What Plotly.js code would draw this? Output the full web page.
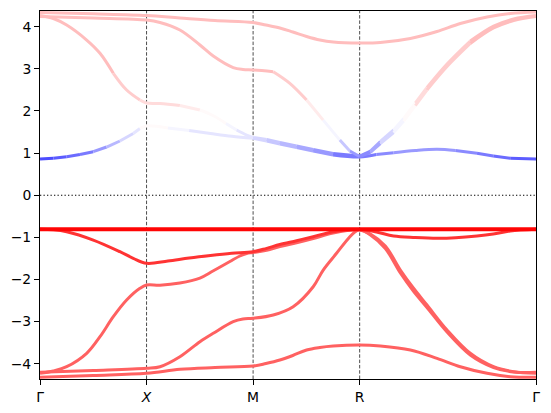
<!DOCTYPE html>
<html><head><meta charset="utf-8">
<script src="https://cdn.plot.ly/plotly-3.0.1.min.js"></script>
<style>html,body{margin:0;padding:0;background:#fff}#chart{width:551px;height:413px}</style>
</head><body><div id="chart"></div>
<script>
// high-symmetry points along the k-path
const kTicks = [0, 1, 2, 3, 4.655];
const kLabels = ['Γ', '<i>X</i>', 'M', 'R', 'Γ'];
const yTicks = [-4, -3, -2, -1, 0, 1, 2, 3, 4];

// ---- valence bands (k, energy, red/blue weight) ----
const V1_k = [0, 1, 2, 3, 4.655];
const V1_E = [-0.81, -0.81, -0.81, -0.81, -0.81];
const V1_w = [1, 1, 1, 1, 1];

const V2_k = [0, 0.125, 0.25, 0.5, 0.75, 0.875, 1, 1.2, 1.4, 1.6, 1.8, 2, 2.127, 2.251, 2.408, 2.564, 2.751, 3, 3.157, 3.319, 3.523, 3.726, 3.9, 4.101, 4.254, 4.413, 4.655];
const V2_E = [-0.81, -0.821, -0.866, -1.064, -1.341, -1.498, -1.617, -1.562, -1.491, -1.431, -1.379, -1.341, -1.261, -1.170, -1.080, -0.985, -0.866, -0.814, -0.874, -0.969, -1.004, -1.023, -1.011, -0.969, -0.921, -0.850, -0.810];
const V2_w = [0.9, 0.9, 0.9, 0.9, 0.9, 0.9, 0.9, 0.9, 0.9, 0.9, 0.9, 0.9, 0.9, 0.9, 0.9, 0.9, 0.9, 0.9, 0.9, 0.9, 0.9, 0.9, 0.9, 0.9, 0.9, 0.9, 0.9];

const V3_k = [0, 0.125, 0.25, 0.438, 0.563, 0.688, 0.813, 0.938, 1, 1.126, 1.313, 1.501, 1.623, 1.782, 1.876, 1.939, 2, 2.127, 2.251, 2.408, 2.564, 2.751, 3, 3.101, 3.241, 3.382, 3.504, 3.632, 3.820, 4.038, 4.257, 4.445, 4.655];
const V3_E = [-4.228, -4.173, -4.071, -3.753, -3.359, -2.884, -2.488, -2.210, -2.132, -2.135, -2.084, -1.966, -1.800, -1.574, -1.443, -1.384, -1.360, -1.308, -1.218, -1.128, -1.028, -0.897, -0.826, -0.921, -1.206, -1.776, -2.203, -2.607, -3.200, -3.753, -4.071, -4.190, -4.228];
const V3_w = [0.8, 0.8, 0.8, 0.8, 0.8, 0.8, 0.8, 0.8, 0.8, 0.8, 0.8, 0.8, 0.8, 0.8, 0.8, 0.8, 0.8, 0.8, 0.8, 0.8, 0.8, 0.8, 0.8, 0.8, 0.8, 0.8, 0.8, 0.8, 0.8, 0.8, 0.8, 0.8, 0.8];

const V4_k = [0, 0.5, 1, 1.126, 1.313, 1.501, 1.626, 1.813, 1.904, 2, 2.189, 2.376, 2.564, 2.658, 2.783, 2.908, 2.955, 3, 3.101, 3.241, 3.382, 3.504, 3.632, 3.820, 4.038, 4.257, 4.445, 4.655];
const V4_E = [-4.204, -4.162, -4.109, -4.071, -3.834, -3.478, -3.278, -3.003, -2.939, -2.922, -2.844, -2.647, -2.172, -1.776, -1.379, -0.985, -0.874, -0.821, -0.945, -1.265, -1.847, -2.275, -2.666, -3.248, -3.793, -4.090, -4.197, -4.204];
const V4_w = [0.8, 0.8, 0.8, 0.8, 0.8, 0.8, 0.8, 0.8, 0.8, 0.8, 0.8, 0.8, 0.8, 0.8, 0.8, 0.8, 0.8, 0.8, 0.8, 0.8, 0.8, 0.8, 0.8, 0.8, 0.8, 0.8, 0.8, 0.8];

const V5_k = [0, 0.5, 1, 1.313, 1.642, 2, 2.120, 2.251, 2.373, 2.502, 2.627, 2.752, 3, 3.194, 3.476, 3.726, 3.945, 4.196, 4.414, 4.655];
const V5_E = [-4.323, -4.280, -4.228, -4.133, -4.090, -4.055, -3.995, -3.912, -3.805, -3.675, -3.615, -3.580, -3.556, -3.580, -3.675, -3.872, -4.071, -4.228, -4.309, -4.323];
const V5_w = [0.8, 0.8, 0.8, 0.8, 0.8, 0.8, 0.8, 0.8, 0.8, 0.8, 0.8, 0.8, 0.8, 0.8, 0.8, 0.8, 0.8, 0.8, 0.8, 0.8];

// ---- conduction bands ----
const C1_k = [0, 0.125, 0.25, 0.375, 0.5, 0.625, 0.75, 0.875, 0.938, 1, 1.2, 1.4, 1.6, 1.8, 2, 2.127, 2.251, 2.408, 2.564, 2.751, 3, 3.157, 3.319, 3.523, 3.726, 3.898, 4.101, 4.254, 4.413, 4.655];
const C1_E = [0.859, 0.876, 0.914, 0.966, 1.033, 1.144, 1.287, 1.465, 1.583, 1.643, 1.595, 1.536, 1.465, 1.398, 1.351, 1.287, 1.215, 1.132, 1.049, 0.954, 0.907, 0.966, 1.009, 1.061, 1.090, 1.061, 0.995, 0.931, 0.876, 0.859];
const C1_w = [0.15, 0.16, 0.18, 0.22, 0.27, 0.32, 0.38, 0.44, 0.48, 0.52, 0.5, 0.47, 0.45, 0.44, 0.43, 0.41, 0.38, 0.35, 0.31, 0.26, 0.22, 0.25, 0.28, 0.3, 0.3, 0.28, 0.25, 0.22, 0.19, 0.16];

const C3_k = [0, 0.125, 0.25, 0.438, 0.563, 0.688, 0.813, 0.938, 1, 1.126, 1.313, 1.501, 1.623, 1.745, 1.845, 1.939, 2, 2.127, 2.251, 2.408, 2.564, 2.751, 3, 3.101, 3.194, 3.319, 3.413, 3.523, 3.632, 3.820, 4.038, 4.257, 4.445, 4.655];
const C3_E = [4.266, 4.195, 4.040, 3.684, 3.369, 2.894, 2.497, 2.260, 2.189, 2.177, 2.129, 2.023, 1.892, 1.702, 1.548, 1.429, 1.370, 1.322, 1.251, 1.168, 1.085, 0.990, 0.931, 1.049, 1.275, 1.548, 1.821, 2.189, 2.557, 3.115, 3.661, 4.017, 4.183, 4.266];
const C3_w = [0.62, 0.62, 0.62, 0.62, 0.62, 0.61, 0.6, 0.58, 0.57, 0.56, 0.55, 0.53, 0.51, 0.49, 0.47, 0.45, 0.44, 0.41, 0.38, 0.35, 0.31, 0.26, 0.22, 0.3, 0.38, 0.45, 0.5, 0.54, 0.57, 0.6, 0.62, 0.62, 0.62, 0.62];

const C4_k = [0, 0.5, 1, 1.126, 1.313, 1.501, 1.626, 1.813, 1.904, 2, 2.189, 2.345, 2.502, 2.658, 2.814, 2.908, 3, 3.101, 3.194, 3.319, 3.413, 3.523, 3.632, 3.820, 4.038, 4.257, 4.445, 4.655];
const C4_E = [4.242, 4.207, 4.159, 4.100, 3.922, 3.566, 3.304, 3.031, 2.984, 2.972, 2.932, 2.656, 2.260, 1.783, 1.308, 1.049, 0.919, 1.014, 1.227, 1.488, 1.761, 2.129, 2.497, 3.055, 3.601, 3.969, 4.147, 4.242];
const C4_w = [0.62, 0.62, 0.62, 0.62, 0.62, 0.62, 0.62, 0.62, 0.62, 0.62, 0.62, 0.6, 0.57, 0.52, 0.44, 0.35, 0.24, 0.3, 0.38, 0.45, 0.5, 0.54, 0.57, 0.6, 0.62, 0.62, 0.62, 0.62];

const C5_k = [0, 0.5, 1, 1.313, 1.642, 2, 2.120, 2.251, 2.373, 2.502, 2.627, 2.752, 3, 3.194, 3.476, 3.726, 3.945, 4.196, 4.414, 4.655];
const C5_E = [4.337, 4.306, 4.266, 4.207, 4.147, 4.100, 4.040, 3.969, 3.874, 3.767, 3.684, 3.637, 3.613, 3.625, 3.720, 3.886, 4.076, 4.230, 4.313, 4.349];
const C5_w = [0.63, 0.63, 0.63, 0.63, 0.63, 0.63, 0.63, 0.63, 0.63, 0.63, 0.63, 0.63, 0.63, 0.63, 0.63, 0.63, 0.63, 0.63, 0.63, 0.63];

const bands = [
  {k: C1_k, E: C1_E, w: C1_w, width: 3},
  {k: C3_k, E: C3_E, w: C3_w, width: 3},
  {k: C4_k, E: C4_E, w: C4_w, width: 3},
  {k: C5_k, E: C5_E, w: C5_w, width: 3},
  {k: V5_k, E: V5_E, w: V5_w, width: 3},
  {k: V4_k, E: V4_E, w: V4_w, width: 3},
  {k: V3_k, E: V3_E, w: V3_w, width: 3},
  {k: V2_k, E: V2_E, w: V2_w, width: 3},
  {k: V1_k, E: V1_E, w: V1_w, width: 4}
];

function bwr(w) {
  w = Math.max(0, Math.min(1, w));
  let r, g, b;
  if (w < 0.5) { r = g = 2 * w; b = 1; } else { r = 1; g = b = 2 * (1 - w); }
  const h = v => Math.round(v * 255).toString(16).padStart(2, '0');
  return '#' + h(r) + h(g) + h(b);
}

const traces = [];
bands.forEach(b => {
  const n = b.k.length;
  // colour of each segment, grouped in small steps so runs can be drawn as one smooth spline
  const segColor = s => bwr(Math.round(((b.w[s] + b.w[s + 1]) / 2) / 0.03) * 0.03);
  const emit = (a, z, color) => {
    const xs = b.k.slice(a, z + 1), ys = b.E.slice(a, z + 1);
    traces.push({
      x: xs, y: ys, mode: 'lines', type: 'scatter',
      line: {color: color, width: b.width, shape: xs.length > 2 ? 'spline' : 'linear', smoothing: 1.0},
      hoverinfo: 'skip', showlegend: false
    });
  };
  let runStart = 0, runColor = segColor(0);
  for (let s = 1; s <= n - 1; s++) {
    const c = s < n - 1 ? segColor(s) : null;
    if (c !== runColor) { emit(runStart, s, runColor); runStart = s; runColor = c; }
  }
});

const shapes = kTicks.slice(1, -1).map(k => ({
  type: 'line', xref: 'x', yref: 'paper', x0: k, x1: k, y0: 0, y1: 1,
  line: {color: 'black', width: 0.7, dash: '3.5px,1.8px'}, layer: 'below'
}));
shapes.push({
  type: 'line', xref: 'paper', yref: 'y', x0: 0, x1: 1, y0: 0, y1: 0,
  line: {color: 'black', width: 1.1, dash: '1.3px,2.2px'}, layer: 'below'
});

const font = {family: 'DejaVu Sans, sans-serif', size: 13.9, color: 'black'};
const axisCommon = {
  showgrid: false, zeroline: false, showline: true, mirror: true,
  linecolor: 'black', linewidth: 1, ticks: 'outside', ticklen: 5, tickwidth: 1,
  tickcolor: 'black', tickfont: font
};

const layout = {
  width: 551, height: 413,
  margin: {l: 40, r: 15, t: 11, b: 34, pad: 0},
  paper_bgcolor: 'white', plot_bgcolor: 'white',
  font: font, showlegend: false,
  xaxis: Object.assign({}, axisCommon, {range: [0, 4.655], tickmode: 'array', tickvals: kTicks, ticktext: kLabels}),
  yaxis: Object.assign({}, axisCommon, {range: [-4.363, 4.373], tickmode: 'array', tickvals: yTicks}),
  shapes: shapes
};

Plotly.newPlot('chart', traces, layout, {staticPlot: true, displayModeBar: false});
</script>
</body></html>
